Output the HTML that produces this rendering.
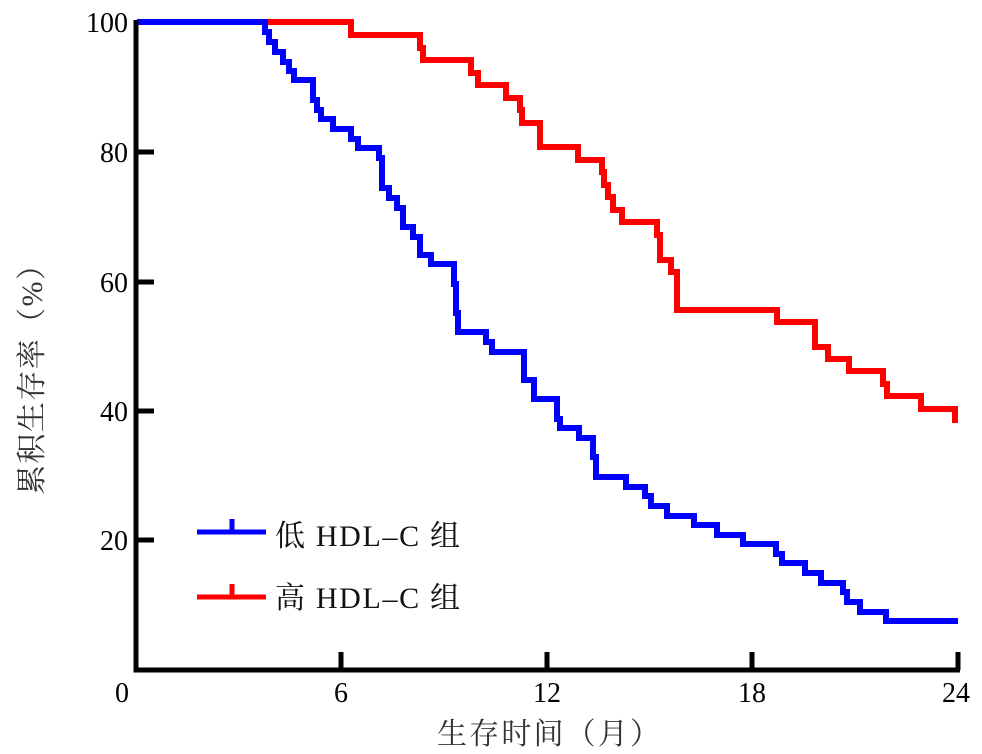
<!DOCTYPE html>
<html><head><meta charset="utf-8"><style>
html,body{margin:0;padding:0;background:#fff;}
svg{display:block;}
text{font-family:"Liberation Serif","Noto Serif CJK SC",serif;}
</style></head><body>
<svg width="982" height="754" viewBox="0 0 982 754" xmlns="http://www.w3.org/2000/svg">
<g fill="none" stroke-linejoin="miter" stroke-linecap="butt">
<polyline stroke="#ff0000" stroke-width="6" points="137,22 351,22 351,35 420,35 420,48 423,48 423,60 471,60 471,73 478,73 478,85 506,85 506,98 520,98 520,110 522,110 522,123 540,123 540,147 578,147 578,160 581,160 602,160 602,172 604,172 604,185 608,185 608,197 613,197 613,210 622,210 622,222 657,222 657,235 660,235 660,260 671,260 671,272 677,272 677,310 777,310 777,322 815,322 815,347 828,347 828,359 849,359 849,371 883,371 883,384 887,384 887,396 921,396 921,409 955,409 955,423"/>
<polyline stroke="#0000ff" stroke-width="6" points="137,22 265,22 265,32 269,32 269,42 275,42 275,52 283,52 283,62 289,62 289,71 294,71 294,80 313,80 313,100 317,100 317,110 321,110 321,119 333,119 333,129 351,129 351,139 358,139 358,148 379,148 379,158 382,158 382,188 389,188 389,198 397,198 397,208 403,208 403,227 413,227 413,237 420,237 420,255 431,255 431,264 454,264 454,284 456,284 456,313 458,313 458,332 486,332 486,342 492,342 492,352 524,352 524,380 534,380 534,399 557,399 557,419 560,419 560,428 579,428 579,438 593,438 593,457 596,457 596,477 626,477 626,487 645,487 645,496 651,496 651,506 667,506 667,516 694,516 694,525 717,525 717,535 743,535 743,544 776,544 776,554 782,554 782,563 805,563 805,573 821,573 821,583 843,583 843,592 847,592 847,602 860,602 860,612 886,612 886,621 958,621"/>
<path stroke="#000" stroke-width="5" d="M136,20 V670 H960 M137,152 H154 M137,282 H154 M137,411 H154 M137,540 H154 M341,670 V652 M547,670 V652 M752,670 V652 M958,670 V652"/>
<path stroke="#0000ff" stroke-width="5" d="M197,532 H266 M232,532 V519"/>
<path stroke="#ff0000" stroke-width="5" d="M197,597 H266 M232,597 V584"/>
</g>
<g font-size="28" fill="#000" text-anchor="end">
<text x="128" y="32">100</text>
<text x="128" y="162">80</text>
<text x="128" y="292">60</text>
<text x="128" y="421">40</text>
<text x="128" y="550">20</text>
</g>
<g font-size="28" fill="#000" text-anchor="middle">
<text x="122" y="702">0</text>
<text x="341" y="702">6</text>
<text x="547" y="702">12</text>
<text x="752" y="702">18</text>
<text x="956" y="702">24</text>
</g>
<text x="437" y="744" font-size="30" fill="#333" textLength="223" lengthAdjust="spacing">生存时间（月）</text>
<text transform="translate(42,495) rotate(-90)" font-size="30" fill="#333" textLength="245" lengthAdjust="spacing">累积生存率（%）</text>
<text x="275" y="546" font-size="30" fill="#111" textLength="185" lengthAdjust="spacing">低 HDL–C 组</text>
<text x="275" y="608" font-size="30" fill="#111" textLength="185" lengthAdjust="spacing">高 HDL–C 组</text>
</svg>
</body></html>
